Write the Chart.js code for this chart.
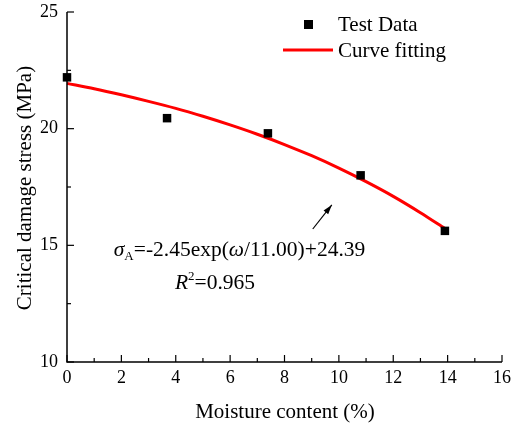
<!DOCTYPE html>
<html>
<head>
<meta charset="utf-8">
<script src="https://cdn.jsdelivr.net/npm/chart.js@4.4.0/dist/chart.umd.min.js"></script>
<style>
  html, body { margin: 0; padding: 0; background: #fff; }
  #wrap { width: 519px; height: 429px; }
</style>
</head>
<body>
<div id="wrap"><canvas id="chart" width="519" height="429"></canvas></div>
<script>
// measured points
const testX = [0, 3.68, 7.39, 10.8, 13.9];
const testY = [22.2, 20.45, 19.8, 18.0, 15.62];

// fitted curve
const fitX = [0, 1, 2, 3, 4, 5, 6, 7, 8, 9, 10, 11, 12, 13, 13.9];
const fitY = [21.94, 21.71, 21.45, 21.17, 20.87, 20.53, 20.16, 19.76, 19.32, 18.84, 18.31, 17.73, 17.10, 16.40, 15.72];

const xTicks = [0, 2, 4, 6, 8, 10, 12, 14, 16];
const yTicks = [10, 15, 20, 25];

const FONT = '"Liberation Serif", "Times New Roman", serif';

// axis lines, inward ticks, titles, legend, equation, arrow
const decorPlugin = {
    id: 'decor',
    afterDraw(chart) {
        const ctx = chart.ctx;
        const xs = chart.scales.x, ys = chart.scales.y;
        const a = chart.chartArea;
        ctx.save();
        ctx.strokeStyle = '#000';
        ctx.lineWidth = 1.5;
        ctx.beginPath();
        ctx.moveTo(a.left, a.top);
        ctx.lineTo(a.left, a.bottom);
        ctx.lineTo(a.right, a.bottom);
        ctx.stroke();

        // x ticks (major + minor)
        ctx.lineWidth = 1.2;
        for (let v = 0; v <= 16; v++) {
            const px = xs.getPixelForValue(v);
            const len = v % 2 === 0 ? 7 : 4;
            ctx.beginPath();
            ctx.moveTo(px, a.bottom);
            ctx.lineTo(px, a.bottom - len);
            ctx.stroke();
        }
        for (let v = 10; v <= 25; v += 2.5) {
            const py = ys.getPixelForValue(v);
            const len = v % 5 === 0 ? 7 : 4;
            ctx.beginPath();
            ctx.moveTo(a.left, py);
            ctx.lineTo(a.left + len, py);
            ctx.stroke();
        }

        ctx.fillStyle = '#000';
        ctx.font = '18px ' + FONT;
        ctx.textAlign = 'center';
        ctx.textBaseline = 'middle';
        xTicks.forEach(v => ctx.fillText(String(v), xs.getPixelForValue(v), a.bottom + 16));
        ctx.textAlign = 'right';
        yTicks.forEach(v => ctx.fillText(String(v), a.left - 9, ys.getPixelForValue(v)));

        // axis titles
        ctx.font = '21px ' + FONT;
        ctx.textAlign = 'center';
        ctx.fillText('Moisture content (%)', 285, 412);
        ctx.save();
        ctx.translate(25, 188);
        ctx.rotate(-Math.PI / 2);
        ctx.fillText('Critical damage stress (MPa)', 0, 0);
        ctx.restore();

        // legend
        ctx.font = '21px ' + FONT;
        ctx.textAlign = 'left';
        ctx.fillRect(304, 20, 9, 9);
        ctx.fillText('Test Data', 338, 25);
        ctx.strokeStyle = '#ff0000';
        ctx.lineWidth = 3;
        ctx.beginPath();
        ctx.moveTo(283, 50);
        ctx.lineTo(333, 50);
        ctx.stroke();
        ctx.fillText('Curve fitting', 338, 51);

        // equation
        let x = xs.getPixelForValue(1.72);
        let y = ys.getPixelForValue(14.8);
        const put = (t, f, dy) => {
            ctx.font = f;
            ctx.fillText(t, x, y + (dy || 0));
            x += ctx.measureText(t).width;
        };
        put('σ', 'italic 21.5px ' + FONT);
        put('A', '13px ' + FONT, 7);
        put('=-2.45exp(', '21.5px ' + FONT);
        put('ω', 'italic 21.5px ' + FONT);
        put('/11.00)+24.39', '21.5px ' + FONT);

        x = xs.getPixelForValue(3.97);
        y = ys.getPixelForValue(13.38);
        put('R', 'italic 21.5px ' + FONT);
        put('2', '13px ' + FONT, -7);
        put('=0.965', '21.5px ' + FONT);

        // arrow
        const x0 = xs.getPixelForValue(9.04), y0 = ys.getPixelForValue(15.7);
        const x1 = xs.getPixelForValue(9.74), y1 = ys.getPixelForValue(16.73);
        const ang = Math.atan2(y1 - y0, x1 - x0);
        ctx.strokeStyle = '#000';
        ctx.lineWidth = 1.2;
        ctx.beginPath();
        ctx.moveTo(x0, y0);
        ctx.lineTo(x1, y1);
        ctx.stroke();
        ctx.beginPath();
        ctx.moveTo(x1, y1);
        ctx.lineTo(x1 - 10 * Math.cos(ang - 0.3), y1 - 10 * Math.sin(ang - 0.3));
        ctx.lineTo(x1 - 10 * Math.cos(ang + 0.3), y1 - 10 * Math.sin(ang + 0.3));
        ctx.closePath();
        ctx.fill();
        ctx.restore();
    }
};

new Chart(document.getElementById('chart').getContext('2d'), {
    type: 'scatter',
    data: {
        datasets: [{
            label: 'Curve fitting',
            data: fitX.map((x, i) => ({ x: x, y: fitY[i] })),
            showLine: true,
            borderColor: '#ff0000',
            borderWidth: 3,
            pointRadius: 0,
            tension: 0.3,
            clip: false,
            order: 2
        }, {
            label: 'Test Data',
            data: testX.map((x, i) => ({ x: x, y: testY[i] })),
            pointStyle: 'rect',
            pointRadius: 6,
            backgroundColor: '#000',
            borderColor: '#000',
            borderWidth: 0,
            clip: false,
            order: 1
        }]
    },
    options: {
        responsive: false,
        animation: false,
        layout: { padding: { top: 12, right: 17, left: 0, bottom: 0 } },
        plugins: { legend: { display: false }, tooltip: { enabled: false } },
        scales: {
            x: {
                type: 'linear', min: 0, max: 16,
                grid: { display: false }, border: { display: false },
                ticks: { display: false },
                afterFit(s) { s.height = 67; }
            },
            y: {
                type: 'linear', min: 10, max: 25,
                grid: { display: false }, border: { display: false },
                ticks: { display: false },
                afterFit(s) { s.width = 67; }
            }
        }
    },
    plugins: [decorPlugin]
});
</script>
</body>
</html>
